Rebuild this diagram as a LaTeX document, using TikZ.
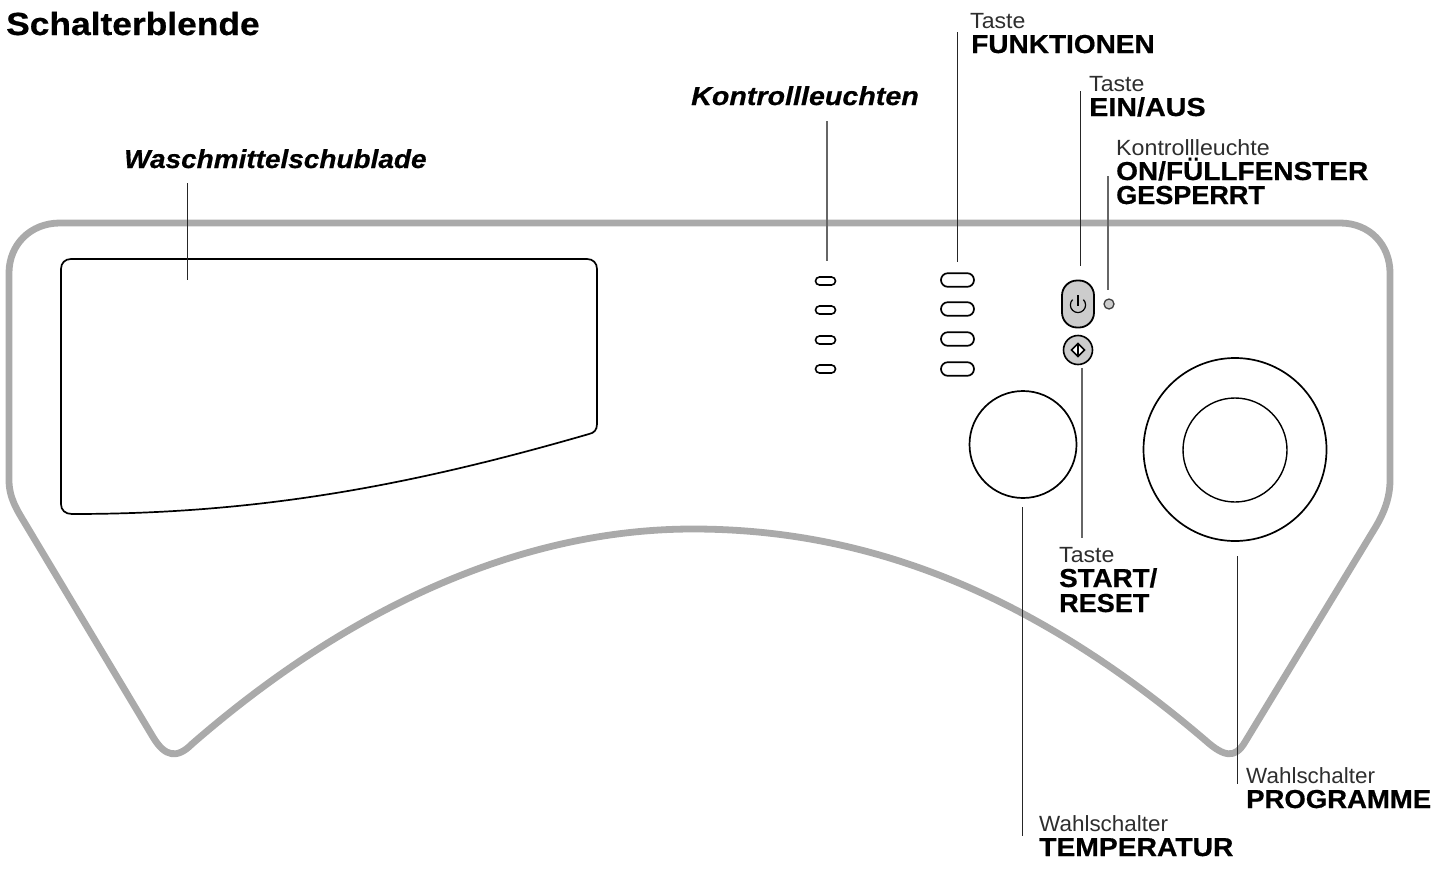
\documentclass[tikz,border=0pt]{standalone}
\usepackage{fontspec}
\setmainfont{Liberation Sans}
\newfontfamily\heavy[FakeBold=0.6]{Liberation Sans Bold}
\newfontfamily\heavyit[FakeBold=0.6]{Liberation Sans Bold Italic}
\newcommand\strx[2]{{\addfontfeatures{FakeStretch=#1}#2}}
\begin{document}
\begin{tikzpicture}[x=1pt,y=-1pt,
  panel/.style={line width=6.8pt,draw=panelgray,line join=round},
  part/.style={draw=black,line width=1.7pt},
  leader/.style={draw=black!85,line width=0.9pt},
  leadergray/.style={draw=black!60,line width=1.1pt},
  ledbox/.style={draw=black,line width=1.6pt,rounded corners=4pt},
  keybox/.style={draw=black,line width=1.7pt,rounded corners=6.8pt},
  small/.style={anchor=base west,inner sep=0pt,text=black!82,font=\fontsize{22}{22}\selectfont},
  big/.style={anchor=base west,inner sep=0pt,font=\fontsize{26}{26}\heavy},
  callout/.style={anchor=base west,inner sep=0pt,font=\fontsize{26}{26}\heavyit}]
\definecolor{panelgray}{RGB}{170,170,170}
\definecolor{fillgray}{RGB}{204,204,204}
\useasboundingbox (0,0) rectangle (1437,870);
\path[panel] (60,223) -- (1340,223)
  .. controls (1370,223) and (1390,245) .. (1390,273)
  -- (1390,480)
  .. controls (1390,498) and (1384,513) .. (1375,528)
  -- (1245,742)
  .. controls (1235,759) and (1224,757) .. (1205,740)
  .. controls (1034,594) and (869,529) .. (693,529)
  .. controls (526,529) and (354,603) .. (192,744)
  .. controls (177,759) and (165,757) .. (153,737)
  -- (26,525)
  .. controls (17,510) and (9,498) .. (9,480)
  -- (9,273)
  .. controls (9,245) and (30,223) .. (60,223) -- cycle;
\path[part] (71,259) -- (587,259) .. controls (593,259) and (597,263) .. (597,269)
  -- (597,424) .. controls (597,430) and (594,433) .. (589,434)
  .. controls (406,487) and (255,514) .. (72,514)
  .. controls (65,514) and (61,510) .. (61,504)
  -- (61,269) .. controls (61,263) and (65,259) .. (71,259) -- cycle;
\node[ledbox,minimum width=20pt,minimum height=8pt] (led1) at (825.5,281) {};
\node[ledbox,minimum width=20pt,minimum height=8pt] (led2) at (825.5,310) {};
\node[ledbox,minimum width=20pt,minimum height=8pt] (led3) at (825.5,340) {};
\node[ledbox,minimum width=20pt,minimum height=8pt] (led4) at (825.5,369) {};
\node[keybox,minimum width=33pt,minimum height=13.6pt] (key1) at (957.5,280) {};
\node[keybox,minimum width=33pt,minimum height=13.6pt] (key2) at (957.5,309) {};
\node[keybox,minimum width=33pt,minimum height=13.6pt] (key3) at (957.5,339) {};
\node[keybox,minimum width=33pt,minimum height=13.6pt] (key4) at (957.5,369) {};
\node[draw=black,fill=fillgray,line width=1.8pt,rounded corners=15pt,minimum width=32pt,minimum height=47pt,inner sep=0pt] (power) at (1078,304) {};
\draw[black,line width=1.2pt] (1072.6,299.6) arc[start angle=-135,delta angle=-270,radius=7.6];
\draw[black,line width=1.2pt] (1078,295) -- (1078,306);
\node[circle,draw=black,fill=fillgray,line width=1.6pt,minimum size=29pt,inner sep=0pt] (startkey) at (1078,350) {};
\draw[black,fill=white,line width=1.6pt,line join=miter] (1078,343.5) -- (1084.5,350) -- (1078,356.5) -- (1071.5,350) -- cycle;
\draw[black,line width=1.4pt] (1078,343.5) -- (1078,356.5);
\node[circle,draw=black!75,fill=fillgray,line width=1.3pt,minimum size=10pt,inner sep=0pt] (lamp) at (1109,304) {};
\node[circle,part,minimum size=107pt,inner sep=0pt] (tempknob) at (1023,444.5) {};
\node[circle,part,minimum size=183pt,inner sep=0pt] (progknob) at (1235,449.5) {};
\node[circle,draw=black,line width=1.4pt,minimum size=104pt,inner sep=0pt] (proginner) at (1235,450) {};
\coordinate (a1) at (187,183); \coordinate (a2) at (187,280);
\coordinate (b1) at (827,121); \coordinate (b2) at (827,261);
\coordinate (c1) at (957,32);  \coordinate (c2) at (957,262);
\coordinate (d1) at (1080,91); \coordinate (d2) at (1080,266);
\coordinate (e1) at (1108,176); \coordinate (e2) at (1108,290);
\coordinate (f1) at (1082,368); \coordinate (f2) at (1082,538);
\coordinate (g1) at (1022,507); \coordinate (g2) at (1022,836);
\coordinate (h1) at (1237,556); \coordinate (h2) at (1237,784);
\draw[leader] (a1) -- (a2);
\draw[leadergray] (b1) -- (b2);
\draw[leader] (c1) -- (c2);
\draw[leader] (d1) -- (d2);
\draw[leadergray] (e1) -- (e2);
\draw[leadergray] (f1) -- (f2);
\draw[leader] (g1) -- (g2);
\draw[leader] (h1) -- (h2);
\node[big,font=\fontsize{32}{32}\heavy] (title) at (6,35) {\strx{1.105}{Schalterblende}};
\node[callout] (tw) at (124,168) {\strx{1.075}{Waschmittelschublade}};
\node[callout] (tk) at (691,105) {\strx{1.102}{Kontrollleuchten}};
\node[small] (t1) at (970,28) {\strx{1.05}{Taste}};
\node[big] (t1b) at (971,53) {\strx{1.077}{FUNKTIONEN}};
\node[small] (t2) at (1089,91) {\strx{1.05}{Taste}};
\node[big] (t2b) at (1089,116) {\strx{1.104}{EIN/AUS}};
\node[small] (t3) at (1116,155) {\strx{1.055}{Kontrollleuchte}};
\node[big] (t3b) at (1116,180) {\strx{1.077}{ON/FÜLLFENSTER}};
\node[big] (t3c) at (1116,204) {\strx{1.04}{GESPERRT}};
\node[small] (t4) at (1059,562) {\strx{1.05}{Taste}};
\node[big] (t4b) at (1059,587) {\strx{1.067}{START/}};
\node[big] (t4c) at (1059,612) {\strx{1.04}{RESET}};
\node[small] (t5) at (1039,831) {\strx{1.02}{Wahlschalter}};
\node[big] (t5b) at (1039,856) {\strx{1.087}{TEMPERATUR}};
\node[small] (t6) at (1246,783) {\strx{1.02}{Wahlschalter}};
\node[big] (t6b) at (1246,808) {\strx{1.058}{PROGRAMME}};
\end{tikzpicture}
\end{document}
